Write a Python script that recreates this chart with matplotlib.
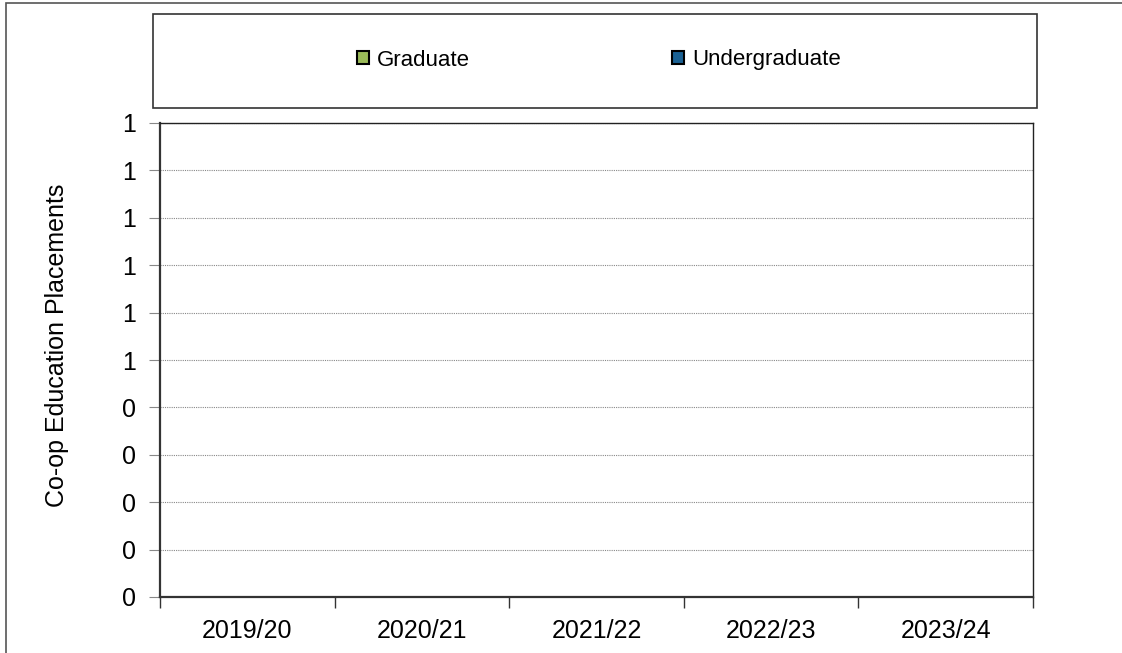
import matplotlib.pyplot as plt
from matplotlib.patches import Patch, Rectangle
import numpy as np

plt.rcParams["font.family"] = ["Liberation Sans", "DejaVu Sans"]

years = ["2019/20", "2020/21", "2021/22", "2022/23", "2023/24"]
graduate = [0, 0, 0, 0, 0]
undergraduate = [0, 0, 0, 0, 0]
y_ticks = [0.0, 0.1, 0.2, 0.3, 0.4, 0.5, 0.6, 0.7, 0.8, 0.9, 1.0]
y_labels = ["0", "0", "0", "0", "0", "1", "1", "1", "1", "1", "1"]

col_grad = "#9BBB59"
col_under = "#1B6193"

fig = plt.figure(figsize=(11.22, 6.53), dpi=100)
W, H = 1122, 653

# outer chart border (cut off on right and bottom)
fig.patches.append(Rectangle((6 / W, -0.1), 1.2, 1.1 - 3 / H, transform=fig.transFigure,
                             fill=False, edgecolor="#555555", linewidth=1.2))

ax = fig.add_axes([160 / W, 1 - 597 / H, 873 / W, 474 / H])
x = np.arange(len(years))
ax.bar(x, graduate, width=0.6, color=col_grad, linewidth=0)
ax.bar(x, undergraduate, width=0.6, bottom=graduate, color=col_under, linewidth=0)

ax.set_xlim(-0.5, len(years) - 0.5)
ax.set_ylim(0, 1)
ax.set_xticks(x)
ax.set_xticklabels(years, fontsize=18)
ax.set_xticks(np.arange(len(years) + 1) - 0.5, minor=True)
ax.tick_params(axis="x", which="major", length=0, pad=16)
ax.tick_params(axis="x", which="minor", length=8, width=1, color="#333333")
ax.set_yticks(y_ticks)
ax.set_yticklabels(y_labels, fontsize=18)
ax.tick_params(axis="y", length=8, width=0.8, color="#888888", pad=9)

ax.grid(axis="y", color="#888888", linestyle=(0, (1, 1)), linewidth=0.8)
ax.set_axisbelow(True)
for s in ["left", "bottom"]:
    ax.spines[s].set_color("#333333")
    ax.spines[s].set_linewidth(1.6)
for s in ["top", "right"]:
    ax.spines[s].set_color("#222222")
    ax.spines[s].set_linewidth(1.0)

fig.text(57 / W, 1 - 345 / H, "Co-op Education Placements", rotation=90,
         ha="center", va="center", fontsize=18)

# legend box
fig.patches.append(Rectangle((153 / W, 1 - 108 / H), 884 / W, 94 / H, transform=fig.transFigure,
                             fill=False, edgecolor="#333333", linewidth=1.2))
handles = [Patch(facecolor=col_grad, edgecolor="black", linewidth=1.5),
           Patch(facecolor=col_under, edgecolor="black", linewidth=1.5)]
fig.legend(handles, ["Graduate", "Undergraduate"], loc="center",
           bbox_to_anchor=(599 / W, 1 - 60 / H), ncol=2, frameon=False, fontsize=16,
           handlelength=0.55, handleheight=0.55, handletextpad=0.35, columnspacing=9.1)

plt.savefig("out.png", dpi=100)
